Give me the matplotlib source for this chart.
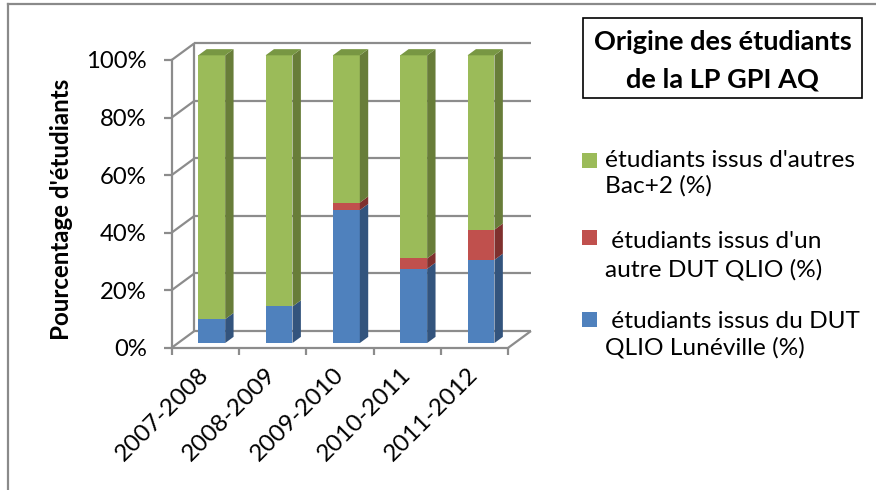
import matplotlib
matplotlib.use("Agg")
import matplotlib.pyplot as plt
from matplotlib.patches import Polygon, Rectangle
from matplotlib.lines import Line2D
import numpy as np

# data (percent of students)
years = ["2007-2008", "2008-2009", "2009-2010", "2010-2011", "2011-2012"]
dut_luneville = [8.3, 12.7, 46.2, 25.8, 28.9]
autre_dut = [0.0, 0.0, 2.6, 3.6, 10.5]
autres_bac2 = [100 - a - b for a, b in zip(dut_luneville, autre_dut)]

series_labels = [
    ["étudiants issus d'autres", "Bac+2 (%)"],
    [" étudiants issus d'un", "autre DUT QLIO (%)"],
    [" étudiants issus du DUT", "QLIO Lunéville (%)"],
]
yticks = [0, 20, 40, 60, 80, 100]

# colours: front, side, top
GREEN = ("#9BBB59", "#687D39", "#789743")
RED = ("#C0504D", "#7F302E", "#9A3E3B")
BLUE = ("#4F81BD", "#33547D", "#406A9C")
GRID = "#8C8C8C"

plt.rcParams["font.family"] = ["Lato", "DejaVu Sans"]

W, H = 876, 490
fig = plt.figure(figsize=(W / 100, H / 100), dpi=100)


def fx(x):
    return x / W


def fy(y):
    return 1 - y / H


# front plane of the plot area in pixel coordinates
ax = fig.add_axes([fx(171.7), fy(347.7), fx(508.3) - fx(171.7), fy(60) - fy(347.7)])
ax.set_xlim(-0.5, len(years) - 0.5)
ax.set_ylim(0, 100)
ax.patch.set_visible(False)

# oblique depth offset (data units) for the full depth of the floor
DX, DY = 0.337, 5.8
D0, D1 = 0.28, 0.65   # bar depth range, fraction of the floor depth
BW = 0.4

x_lo, x_hi = -0.5, len(years) - 0.5
line_kw = dict(color=GRID, lw=1.6, clip_on=False, zorder=1, solid_capstyle="butt")
for v in yticks:
    # back wall gridline and left wall diagonal
    ax.add_line(Line2D([x_lo + DX, x_hi + DX], [v + DY, v + DY], **line_kw))
    ax.add_line(Line2D([x_lo, x_lo + DX], [v, v + DY], **line_kw))
ax.add_line(Line2D([x_lo + DX, x_lo + DX], [DY, 100 + DY], **line_kw))
ax.add_line(Line2D([x_hi, x_hi + DX], [0, DY], **line_kw))

# stacked 3d-looking bars
stacks = [(dut_luneville, BLUE), (autre_dut, RED), (autres_bac2, GREEN)]
x = np.arange(len(years))
bottom = np.zeros(len(years))
ddx, ddy = (D1 - D0) * DX, (D1 - D0) * DY
for k, (vals, cols) in enumerate(stacks):
    vals = np.array(vals, dtype=float)
    xf = x + D0 * DX
    yb = bottom + D0 * DY
    ax.bar(xf, vals, width=BW, bottom=yb, color=cols[0], zorder=3, clip_on=False)
    for i in range(len(years)):
        if vals[i] <= 0:
            continue
        xr = xf[i] + BW / 2
        xl = xf[i] - BW / 2
        y0, y1 = yb[i], yb[i] + vals[i]
        ax.add_patch(Polygon([(xr, y0), (xr + ddx, y0 + ddy), (xr + ddx, y1 + ddy), (xr, y1)],
                             closed=True, fc=cols[1], ec="none", zorder=3, clip_on=False))
        if k == len(stacks) - 1:
            ax.add_patch(Polygon([(xl, y1), (xr, y1), (xr + ddx, y1 + ddy), (xl + ddx, y1 + ddy)],
                                 closed=True, fc=cols[2], ec="none", zorder=3, clip_on=False))
    bottom = bottom + vals

# axes styling
for side in ["top", "right"]:
    ax.spines[side].set_visible(False)
for side in ["left", "bottom"]:
    ax.spines[side].set_color(GRID)
    ax.spines[side].set_linewidth(1.6)
    ax.spines[side].set_zorder(4)

ax.set_yticks(yticks)
ax.set_yticklabels([f"{v}%" for v in yticks])
ax.tick_params(axis="y", length=6, width=1.6, color=GRID, pad=12, labelsize=17.2)

ax.set_xticks(np.arange(len(years) + 1) - 0.5)
ax.set_xticklabels([])
ax.tick_params(axis="x", which="major", length=5, width=1.6, color=GRID)
ax.set_xticks(x, minor=True)
ax.set_xticklabels(years, minor=True, rotation=45, ha="right", va="center",
                   rotation_mode="anchor", fontsize=17.5)
ax.tick_params(axis="x", which="minor", length=0, pad=17)

fig.text(fx(62), fy(209.5), "Pourcentage d'étudiants", rotation=90, ha="center",
         va="center", fontsize=17.4, fontweight="bold")

# legend title box
fig.patches.append(Rectangle((fx(583), fy(98)), fx(862) - fx(583), fy(18) - fy(98),
                             transform=fig.transFigure, fill=False, ec="black", lw=1.2))
fig.text(fx(722.5), fy(50), "Origine des étudiants", ha="center", va="baseline",
         fontsize=19.5, fontweight="bold")
fig.text(fx(722.5), fy(87.3), "de la LP GPI AQ", ha="center", va="baseline",
         fontsize=19.5, fontweight="bold")

# legend entries
leg_colors = [GREEN[0], RED[0], BLUE[0]]
sq_tops = [153, 230, 312]
baselines = [(166.7, 193), (248.3, 276), (327.7, 354)]
for col, top, (b1, b2), lab in zip(leg_colors, sq_tops, baselines, series_labels):
    fig.patches.append(Rectangle((fx(582), fy(top + 15)), fx(15), fy(0) - fy(15),
                                 transform=fig.transFigure, fc=col, ec="none"))
    fig.text(fx(605), fy(b1), lab[0], ha="left", va="baseline", fontsize=17.6)
    fig.text(fx(605), fy(b2), lab[1], ha="left", va="baseline", fontsize=17.6)

# outer chart border (cropped on right and bottom)
fig.add_artist(Line2D([fx(8), fx(8)], [fy(4), 0], transform=fig.transFigure, color="#8A8A8A", lw=1.6))
fig.add_artist(Line2D([fx(8), 1], [fy(4), fy(4)], transform=fig.transFigure, color="#8A8A8A", lw=1.6))

fig.savefig("out.png", dpi=100, facecolor="white")
